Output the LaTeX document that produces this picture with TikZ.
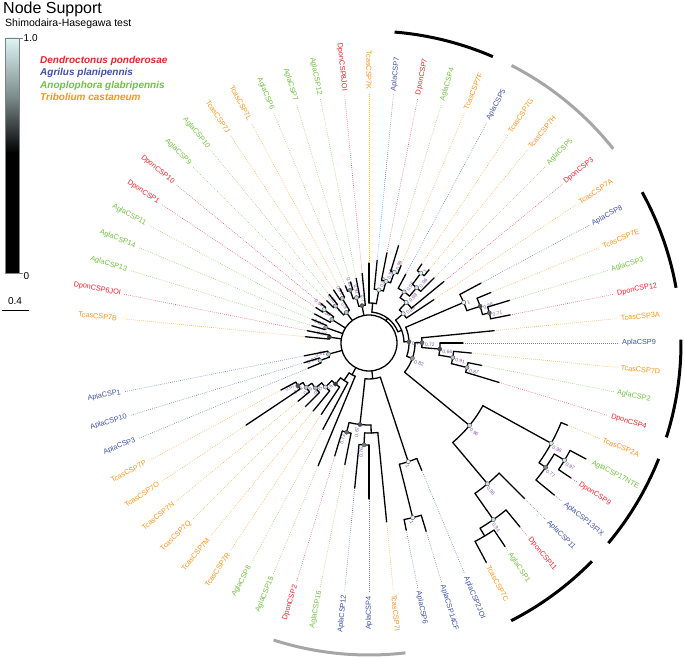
\documentclass[tikz,border=0pt]{standalone}
\usepackage{fontspec}
\setmainfont{Liberation Sans}
\definecolor{cR}{HTML}{E8232B}
\definecolor{cB}{HTML}{3F51A3}
\definecolor{cG}{HTML}{72BF44}
\definecolor{cO}{HTML}{F7941D}
\definecolor{cP}{HTML}{7E57A8}
\definecolor{supc}{HTML}{DDF5F5}
\definecolor{cGray}{HTML}{A6A6A6}
\newcommand\SV[3]{%
  \pgfmathsetmacro\pct{max(0,min(100,(#3-0.5)*200))}%
  \pgfmathsetmacro\cc{cos(#1)}%
  \ifdim\cc pt<0.0001pt
    \node[suplab,rotate=#1+180,anchor=south east] at (#1:{#2+2.5}) {#3};
  \else
    \node[suplab,rotate=#1,anchor=north west] at (#1:{#2+2.5}) {#3};
  \fi
  \draw[supdot,fill=supc!\pct!black] (#1:#2) circle[radius=2.1pt];
}
\newcommand\INn[5]{% angle, parent r, r, a1, a2
  \draw[br] (#1:#2) -- (#1:#3);
  \draw[br] (#4:#3) arc[start angle=#4, end angle=#5, radius=#3pt];
}
\newcommand\IN[6]{\INn{#1}{#2}{#3}{#4}{#5}\SV{#1}{#3}{#6}}
\newcommand\LF[5]{% angle, parent r, tip r, name, colour
  \draw[br] (#1:#2) -- (#1:#3);
  \draw[lfdot,#5!75!white] (#1:#3) -- (#1:250);
  \pgfmathsetmacro\cc{cos(#1)}%
  \ifdim\cc pt<0.0001pt
    \node[lflab,text=#5,rotate=#1+180,anchor=east] (#4) at (#1:253) {#4};
  \else
    \node[lflab,text=#5,rotate=#1,anchor=west] (#4) at (#1:253) {#4};
  \fi
}
\newcommand\CL[4]{\draw[clade,#4] (#1:#3) arc[start angle=#1, end angle=#2, radius=#3pt];}
\begin{document}
\begin{tikzpicture}[x=1pt,y=1pt,
  br/.style={line width=1.3pt, line cap=round},
  lfdot/.style={line width=0.65pt, dash pattern=on 0.65pt off 1.35pt},
  lflab/.style={font=\fontsize{7.3}{8}\selectfont, inner sep=0pt},
  suplab/.style={font=\fontsize{5}{5.5}\selectfont, text=cP, inner sep=0.3pt},
  supdot/.style={draw=black!70, line width=0.4pt},
  clade/.style={line width=3pt},
  legtxt/.style={font=\fontsize{10}{12}\selectfont\bfseries\itshape, anchor=base west, inner sep=0pt},
]
\useasboundingbox (0,0) rectangle (685,658);
% ---------- legend ----------
\node[anchor=base west, inner sep=0pt, font=\fontsize{16}{18}\selectfont] (title) at (3,644) {Node Support};
\node[anchor=base west, inner sep=0pt, font=\fontsize{10.5}{12}\selectfont] (subtitle) at (5,631) {Shimodaira-Hasegawa test};
\shade[top color=supc, bottom color=black, middle color={rgb,255:red,126;green,142;blue,142}] (5,505) rectangle (19,620);
\fill[black] (5,385) rectangle (19,505.5);
\draw[gray, line width=0.6pt] (5,385) rectangle (19,620);
\draw[gray, line width=0.6pt] (19,620) -- (23,620);
\draw[gray, line width=0.6pt] (19,385) -- (23,385);
\node[anchor=west, inner sep=0.5pt, font=\fontsize{10}{12}\selectfont] (one) at (23,620) {1.0};
\node[anchor=west, inner sep=0.5pt, font=\fontsize{10}{12}\selectfont] (zero) at (23,382) {0};
\node[inner sep=0pt, font=\fontsize{10}{12}\selectfont] (scale) at (15,357) {0.4};
\draw[line width=0.8pt] (2,348) -- (29,348);
\node[legtxt, text=cR] (l1) at (40,594) {Dendroctonus ponderosae};
\node[legtxt, text=cB] (l2) at (40,582) {Agrilus planipennis};
\node[legtxt, text=cG] (l3) at (40,569) {Anoplophora glabripennis};
\node[legtxt, text=cO] (l4) at (40,557) {Tribolium castaneum};
% ---------- tree ----------
\begin{scope}[shift={(369,315)}]
\CL{66.6}{85.3}{312}{black}
\CL{38.5}{62.8}{312}{cGray}
\CL{10.2}{28.9}{312}{black}
\CL{-17.6}{0.6}{312}{black}
\CL{-39.9}{-21.8}{312}{black}
\CL{-62.9}{-44.4}{312}{black}
\CL{252.2}{276.7}{312}{cGray}
\draw[br] (0,0) circle[radius=28pt];
% upper-left
\IN{100.55}{28}{38}{95.625}{105.47}{0.7}
\IN{105.47}{38}{47}{101.25}{109.69}{0.93}
\IN{109.69}{47}{56}{106.875}{112.5}{0.81}
\LF{95.625}{38}{70}{DponCSP8JOI}{cR}
\LF{101.25}{47}{66}{AglaCSP12}{cG}
\LF{106.875}{56}{64}{AglaCSP7}{cG}
\LF{112.5}{56}{62}{AglaCSP6}{cG}
\IN{126.56}{28}{38}{120.94}{132.19}{0.9}
\IN{120.94}{38}{52}{118.125}{123.75}{0.91}
\IN{132.19}{38}{50}{129.375}{135}{0.93}
\LF{118.125}{52}{62}{TcasCSP7L}{cO}
\LF{123.75}{52}{64}{TcasCSP7J}{cO}
\LF{129.375}{50}{63}{AglaCSP10}{cG}
\LF{135}{50}{60}{AglaCSP9}{cG}
\IN{147.66}{28}{44}{143.44}{151.875}{0.88}
\IN{143.44}{44}{56}{140.625}{146.25}{0.98}
\LF{140.625}{56}{62}{DponCSP10}{cR}
\LF{146.25}{56}{64}{DponCSP1}{cR}
\LF{151.875}{44}{62}{AglaCSP11}{cG}
\IN{160.31}{28}{46}{157.5}{163.125}{0.84}
\LF{157.5}{46}{62}{AglaCSP14}{cG}
\LF{163.125}{46}{60}{AglaCSP13}{cG}
\IN{171.56}{28}{40}{168.75}{174.375}{0.63}
\LF{168.75}{40}{63}{DponCSP6JOI}{cR}
\LF{174.375}{40}{64}{TcasCSP7B}{cO}
% left
\IN{195.47}{28}{42}{191.25}{199.69}{0.92}
\IN{199.69}{42}{52}{196.875}{202.5}{0.92}
\LF{191.25}{42}{66}{AplaCSP1}{cB}
\LF{196.875}{52}{68}{AplaCSP10}{cB}
\LF{202.5}{52}{66}{AplaCSP3}{cB}
% lower-left
\INn{241.92}{28}{36}{236.34}{247.5}
\INn{236.34}{36}{45}{230.8}{241.875}
\IN{230.8}{45}{53}{225.35}{236.25}{0.6}
\IN{225.35}{53}{62}{220.08}{230.625}{0.95}
\IN{220.08}{62}{70}{215.16}{225}{0.89}
\IN{215.16}{70}{77}{210.94}{219.375}{0.91}
\IN{210.94}{77}{83}{208.125}{213.75}{0.67}
\LF{208.125}{83}{100}{TcasCSP7P}{cO}
\LF{213.75}{83}{148}{TcasCSP7O}{cO}
\LF{219.375}{77}{92}{TcasCSP7N}{cO}
\LF{225}{70}{90}{TcasCSP7Q}{cO}
\LF{230.625}{62}{88}{TcasCSP7M}{cO}
\LF{236.25}{53}{86}{TcasCSP7R}{cO}
\LF{241.875}{45}{98}{AglaCSP8}{cG}
\LF{247.5}{36}{133}{AglaCSP15}{cG}
% bottom
\INn{275.98}{28}{36}{263.67}{288.28}
\IN{263.67}{36}{82}{255.94}{271.4}{0.67}
\IN{255.94}{82}{92}{253.125}{258.75}{0.72}
\INn{271.4}{82}{90}{267.19}{275.625}
\IN{267.19}{90}{102}{264.375}{270}{0.76}
\LF{253.125}{92}{118}{DponCSP2}{cR}
\LF{258.75}{92}{124}{AglaCSP16}{cG}
\LF{264.375}{102}{146}{AplaCSP12}{cB}
\LF{270}{102}{156}{AplaCSP4}{cB}
\LF{275.625}{90}{180}{TcasCSP7I}{cO}
\IN{288.28}{36}{125}{284.06}{292.5}{1}
\IN{284.06}{125}{180}{281.25}{286.875}{1}
\LF{281.25}{180}{191}{AplaCSP6}{cB}
\LF{286.875}{180}{197}{AplaCSP14CF}{cB}
\LF{292.5}{125}{138}{AplaCSP2JOI}{cB}
% right nested backbone
\INn{52.96}{28}{31}{21.2}{84.72}
\INn{21.2}{31}{35}{1.85}{40.6}
\IN{1.85}{35}{40}{-19.51}{23.2}{0.7}
\IN{-19.51}{40}{46}{-39.37}{0.35}{0.82}
% lower-right
\IN{-39.37}{46}{130}{-49.92}{-28.83}{0.96}
\IN{-28.83}{130}{208}{-35.16}{-22.5}{0.98}
\IN{-35.16}{208}{216}{-39.375}{-30.94}{0.77}
\IN{-30.94}{216}{228}{-33.75}{-28.125}{0.97}
\IN{-49.92}{130}{184}{-54.84}{-45}{0.96}
\IN{-54.84}{184}{216}{-59.06}{-50.625}{0.94}
\INn{-59.06}{216}{225}{-61.875}{-56.25}
\LF{-61.875}{225}{249}{TcasCSP7C}{cO}
\LF{-56.25}{225}{245}{AglaCSP1}{cG}
\LF{-50.625}{216}{238}{DponCSP11}{cR}
\LF{-45}{184}{220}{AplaCSP11}{cB}
\LF{-39.375}{216}{240}{AplaCSP13FIX}{cB}
\LF{-33.75}{228}{243}{DponCSP9}{cR}
\LF{-28.125}{228}{246}{AglaCSP17NTE}{cG}
\LF{-22.5}{208}{215}{TcasCSP2A}{cO}
% right
\IN{0.35}{46}{53}{-4.92}{5.625}{0.72}
\IN{-4.92}{53}{71}{-9.84}{0}{0.66}
\IN{-9.84}{71}{85}{-14.06}{-5.625}{0.91}
\IN{-14.06}{85}{101}{-16.875}{-11.25}{0.87}
\LF{5.625}{53}{126}{TcasCSP3A}{cO}
\LF{0}{71}{94}{AplaCSP9}{cB}
\LF{-5.625}{85}{103}{TcasCSP7D}{cO}
\LF{-11.25}{101}{115}{AglaCSP2}{cG}
\LF{-16.875}{101}{136}{DponCSP4}{cR}
\IN{23.2}{40}{103}{18.28}{28.125}{1}
\IN{18.28}{103}{117}{14.06}{22.5}{0.66}
\IN{14.06}{117}{124}{11.25}{16.875}{0.71}
\LF{28.125}{103}{127}{AplaCSP8}{cB}
\LF{22.5}{117}{132}{TcasCSP7E}{cO}
\LF{16.875}{124}{147}{AglaCSP3}{cG}
\LF{11.25}{124}{144}{DponCSP12}{cR}
% upper-right
\IN{40.6}{35}{45}{33.75}{47.46}{0.99}
\IN{47.46}{45}{55}{39.375}{55.55}{0.98}
\IN{55.55}{55}{62}{49.22}{61.875}{0.96}
\IN{49.22}{62}{73}{45}{53.44}{0.96}
\IN{53.44}{73}{87}{50.625}{56.25}{1}
\LF{33.75}{45}{78}{TcasCSP7A}{cO}
\LF{39.375}{55}{97}{DponCSP3}{cR}
\LF{45}{73}{92}{AglaCSP5}{cG}
\LF{50.625}{87}{95}{TcasCSP7H}{cO}
\LF{56.25}{87}{95}{TcasCSP7G}{cO}
\LF{61.875}{62}{78}{AplaCSP5}{cB}
% top
\INn{84.72}{31}{40}{79.45}{90}
\IN{79.45}{40}{54}{74.53}{84.375}{0.99}
\IN{74.53}{54}{64}{70.31}{78.75}{0.98}
\IN{70.31}{64}{75}{67.5}{73.125}{0.99}
\LF{90}{40}{80}{TcasCSP7K}{cO}
\LF{84.375}{54}{83}{AplaCSP7}{cB}
\LF{78.75}{64}{92}{DponCSP7}{cR}
\LF{73.125}{75}{102}{AglaCSP4}{cG}
\LF{67.5}{75}{84}{TcasCSP7F}{cO}
\end{scope}
\end{tikzpicture}
\end{document}
